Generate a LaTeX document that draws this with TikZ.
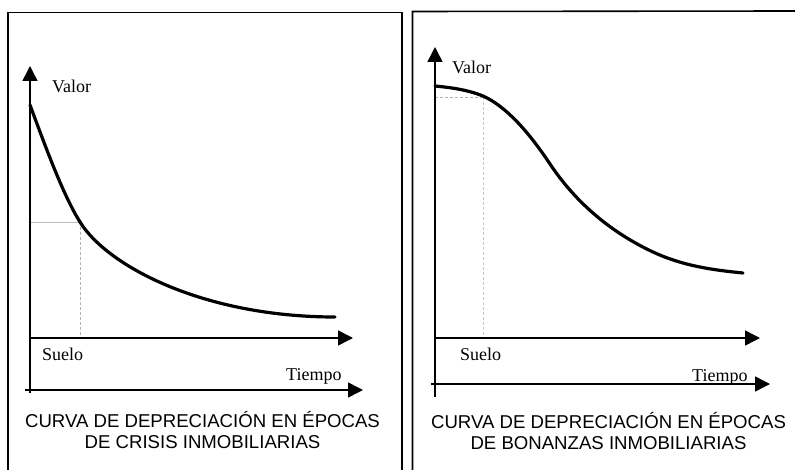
\documentclass[tikz,border=0pt]{standalone}
\usepackage{fontspec}
\setmainfont{Liberation Serif}
\newfontfamily\capfont{Liberation Sans}
\usetikzlibrary{arrows.meta}
\begin{document}
\begin{tikzpicture}[x=1pt,y=-1pt,
  frame/.style={line width=1.6pt,black},
  axis/.style={line width=1.5pt,-{Triangle[length=15pt,width=15pt]}},
  curve/.style={line width=3.2pt,line join=round,line cap=round},
  guide/.style={line width=0.6pt,gray!55},
  guidedash/.style={line width=0.6pt,gray!60,dash pattern=on 3pt off 2pt},
  lbl/.style={font=\fontsize{18}{20}\selectfont,inner sep=0pt,anchor=base west},
  captxt/.style={font=\capfont\fontsize{18.6}{21}\selectfont,inner sep=0pt,anchor=base}]
\useasboundingbox (0,0) rectangle (795,470);
\fill[white] (0,0) rectangle (795,470);

% ---------- frames ----------
\coordinate (fLa) at (8,470);
\coordinate (fLb) at (8,12.5);
\coordinate (fLc) at (402,12.5);
\coordinate (fLd) at (402,470);
\draw[frame] (fLa) -- (fLb) -- (fLc) -- (fLd);
\coordinate (fRa) at (412.5,470);
\coordinate (fRb) at (412.5,11.5);
\coordinate (fRc) at (795,11);
\draw[frame] (fRa) -- (fRb) -- (fRc);

% ---------- left diagram ----------
\coordinate (Lorig) at (30,393);
\coordinate (Ltop) at (30,66);
\coordinate (Ls0) at (30,338);
\coordinate (Ls1) at (353,338);
\coordinate (Lt0) at (25,390);
\coordinate (Lt1) at (363,390);
\coordinate (Lg0) at (30,222);
\coordinate (Lg1) at (80,222);
\coordinate (Lg2) at (80,338);
\draw[guide] (Lg0) -- (Lg1);
\draw[guidedash] (Lg1) -- (Lg2);
\draw[axis] (Lorig) -- (Ltop);
\draw[axis] (Ls0) -- (Ls1);
\draw[axis] (Lt0) -- (Lt1);
\coordinate (Lc0) at (30,105);
\coordinate (Lc4) at (335,317);
\draw[curve] (Lc0) .. controls (46.7,150) and (63.3,195.3) .. (Lg1)
  .. controls (108,267) and (205,317) .. (Lc4);
\node[lbl] (Lvalor) at (52,92.5) {Valor};
\node[lbl] (Lsuelo) at (42,360) {Suelo};
\node[lbl] (Ltiempo) at (286,380) {Tiempo};
\node[captxt] (Lcap1) at (202.5,427) {CURVA DE DEPRECIACIÓN EN ÉPOCAS};
\node[captxt] (Lcap2) at (202.5,448) {DE CRISIS INMOBILIARIAS};

% ---------- right diagram ----------
\coordinate (Rorig) at (435,397);
\coordinate (Rtop) at (435,47);
\coordinate (Rs0) at (435,338);
\coordinate (Rs1) at (760,338);
\coordinate (Rt0) at (431,384);
\coordinate (Rt1) at (770,384);
\coordinate (Rg0) at (435,97);
\coordinate (Rg1) at (483,97);
\coordinate (Rg2) at (483,338);
\draw[guidedash] (Rg0) -- (Rg1);
\draw[guidedash,gray!45] (Rg1) -- (Rg2);
\draw[axis] (Rorig) -- (Rtop);
\draw[axis] (Rs0) -- (Rs1);
\draw[axis] (Rt0) -- (Rt1);
\coordinate (Rc0) at (435,86);
\coordinate (Rc1) at (483,96);
\coordinate (Rc2) at (550,164);
\coordinate (Rc3) at (653,252);
\coordinate (Rc4) at (743,273);
\draw[curve] (Rc0) .. controls (451,87.6) and (467,89.6) .. (Rc1)
  .. controls (505.3,106) and (527.7,130.5) .. (Rc2)
  .. controls (580,209) and (618.7,236) .. (Rc3)
  .. controls (683,266) and (713,270) .. (Rc4);
\node[lbl] (Rvalor) at (452,74) {Valor};
\node[lbl] (Rsuelo) at (460,360) {Suelo};
\node[lbl] (Rtiempo) at (692,381) {Tiempo};
\node[captxt] (Rcap1) at (608.5,428) {CURVA DE DEPRECIACIÓN EN ÉPOCAS};
\node[captxt] (Rcap2) at (608.5,449) {DE BONANZAS INMOBILIARIAS};
\end{tikzpicture}
\end{document}
